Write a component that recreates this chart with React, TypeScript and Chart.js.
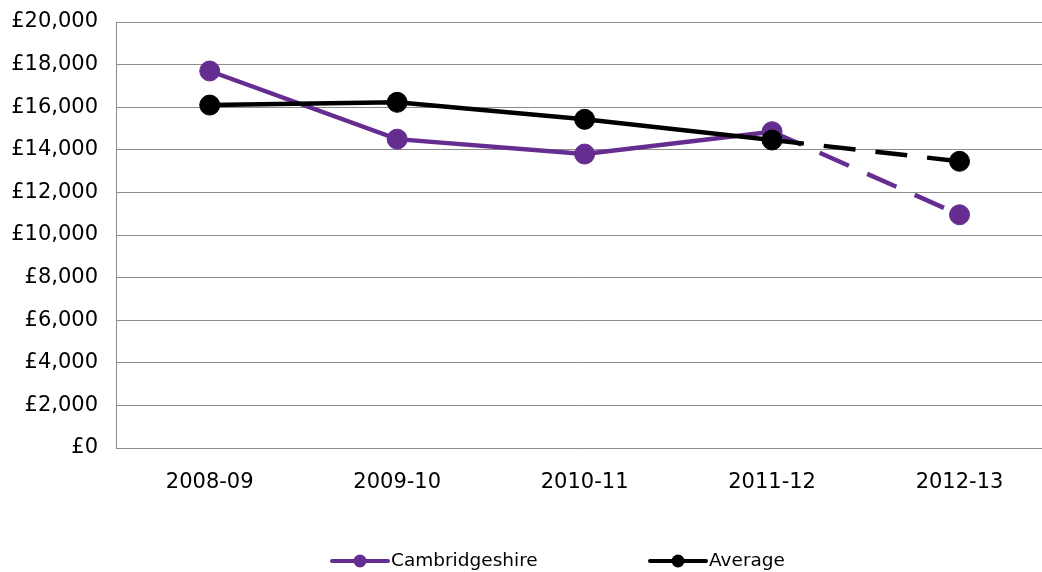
import React, { useEffect, useRef } from "react";
import { Chart, registerables } from "chart.js";

Chart.register(...registerables);

const categories = ["2008-09", "2009-10", "2010-11", "2011-12", "2012-13"];
const cambridgeshire = [17700, 14500, 13800, 14850, 10950];
const average = [16100, 16230, 15430, 14460, 13460];
const yTicks = [0, 2000, 4000, 6000, 8000, 10000, 12000, 14000, 16000, 18000, 20000];

const PURPLE = "#662D91";
const BLACK = "#000000";
const FONT = "'DejaVu Sans', Verdana, sans-serif";

const legendPlugin = {
  id: "customLegend",
  afterDraw(chart: any) {
    const ctx = chart.ctx;
    const items = [
      { label: "Cambridgeshire", color: PURPLE, x: 332 },
      { label: "Average", color: BLACK, x: 650 },
    ];
    const y = 561;
    ctx.save();
    items.forEach((it) => {
      ctx.strokeStyle = it.color;
      ctx.lineWidth = 4;
      ctx.lineCap = "round";
      ctx.beginPath();
      ctx.moveTo(it.x, y);
      ctx.lineTo(it.x + 56, y);
      ctx.stroke();
      ctx.fillStyle = it.color;
      ctx.beginPath();
      ctx.arc(it.x + 28, y, 6.5, 0, Math.PI * 2);
      ctx.fill();
      ctx.fillStyle = "#000";
      ctx.font = `18.5px ${FONT}`;
      ctx.textBaseline = "middle";
      ctx.textAlign = "left";
      ctx.fillText(it.label, it.x + 59, y);
    });
    ctx.restore();
  },
};

const dash = (ctx: any) => (ctx.p0DataIndex === 3 ? [32, 20] : undefined);

export default function App() {
  const ref = useRef<HTMLCanvasElement | null>(null);
  useEffect(() => {
    if (!ref.current) return;
    const chart = new Chart(ref.current, {
      type: "line",
      data: {
        datasets: [
          {
            label: "Cambridgeshire",
            data: cambridgeshire.map((v, i) => ({ x: i, y: v })),
            borderColor: PURPLE,
            backgroundColor: PURPLE,
            pointBackgroundColor: PURPLE,
            pointBorderColor: PURPLE,
            borderWidth: 4.5,
            pointRadius: 10,
            pointBorderWidth: 1,
            tension: 0,
            order: 1,
            clip: false,
            segment: { borderDash: dash },
          },
          {
            label: "Average",
            data: average.map((v, i) => ({ x: i, y: v })),
            borderColor: BLACK,
            backgroundColor: BLACK,
            pointBackgroundColor: BLACK,
            pointBorderColor: BLACK,
            borderWidth: 4.5,
            pointRadius: 10,
            pointBorderWidth: 1,
            tension: 0,
            order: 0,
            clip: false,
            segment: { borderDash: dash },
          },
        ],
      },
      options: {
        animation: false,
        responsive: false,
        devicePixelRatio: 1,
        layout: { autoPadding: false, padding: { top: 22, right: 0, bottom: 64, left: 11 } },
        plugins: { legend: { display: false }, tooltip: { enabled: false } },
        scales: {
          x: {
            type: "linear",
            min: -0.5,
            max: 4.44,
            afterBuildTicks: (scale: any) => {
              scale.ticks = categories.map((_, i) => ({ value: i }));
            },
            afterFit: (scale: any) => {
              scale.paddingRight = 0;
              scale.paddingLeft = 0;
              scale.height = 60;
            },
            ticks: {
              callback: (v: any) => categories[v] ?? "",
              font: { family: FONT, size: 21 },
              color: "#000",
              padding: 22,
              maxRotation: 0,
              autoSkip: false,
            },
            grid: { display: false, drawTicks: false },
            border: { display: false },
          },
          y: {
            min: 0,
            max: 20000,
            afterBuildTicks: (scale: any) => {
              scale.ticks = yTicks.map((v) => ({ value: v }));
            },
            afterFit: (scale: any) => {
              scale.paddingTop = 0;
              scale.paddingBottom = 0;
              scale.width = 105;
            },
            ticks: {
              callback: (v: any) => "£" + Number(v).toLocaleString("en-GB"),
              font: { family: FONT, size: 21 },
              color: "#000",
              padding: 18,
            },
            grid: { color: "#8c8c8c", lineWidth: 1, drawTicks: false },
            border: { display: true, color: "#8c8c8c", width: 1 },
          },
        },
      },
      plugins: [legendPlugin],
    });
    return () => chart.destroy();
  }, []);
  return (
    <div style={{ position: "fixed", left: 0, top: 0, width: 1042, height: 572, background: "#fff" }}>
      <canvas ref={ref} width={1042} height={572} style={{ display: "block" }} />
    </div>
  );
}
